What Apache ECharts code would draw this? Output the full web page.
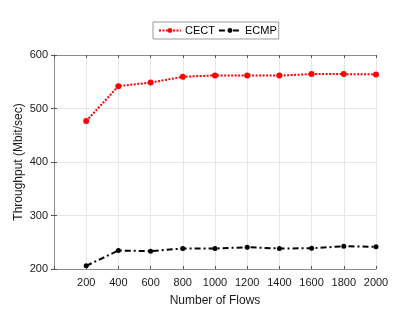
<!DOCTYPE html>
<html><head><meta charset="utf-8">
<script src="https://cdn.jsdelivr.net/npm/echarts@6/dist/echarts.min.js"></script>
<style>html,body{margin:0;padding:0;background:#fff}#c{width:415px;height:312px}</style>
</head><body><div id="c"></div>
<script>
var flows = [200, 400, 600, 800, 1000, 1200, 1400, 1600, 1800, 2000];
var cect = [476.5, 541.8, 548.4, 559.3, 561.9, 561.9, 561.5, 564.3, 564.3, 563.7];
var ecmp = [205.9, 234.6, 233.3, 238.3, 238.2, 240.7, 238.3, 238.8, 242.5, 241.4];
var xTicks = [0, 200, 400, 600, 800, 1000, 1200, 1400, 1600, 1800, 2000];
var yTicks = [200, 300, 400, 500, 600];

var font = 'Liberation Sans, Arial, sans-serif';
var chart = echarts.init(document.getElementById('c'), null, {renderer: 'canvas'});
function pairs(v){ return flows.map(function(f,i){ return [f, v[i]]; }); }
var axisLine = {show: true, lineStyle: {color: '#8c8c8c', width: 1}};
chart.setOption({
  animation: false,
  backgroundColor: '#fff',
  grid: {left: 54, right: 39, top: 55, bottom: 38},
  legend: {
    top: 22, left: 153, itemWidth: 22, itemHeight: 6, itemGap: 3,
    padding: [3, 2, 3, 5],
    borderColor: '#999', borderWidth: 1, borderRadius: 0,
    textStyle: {fontFamily: font, fontSize: 11, color: '#000', padding: [0, 0, 0, -1]},
    data: ['CECT', 'ECMP']
  },
  xAxis: [{
    type: 'value', min: 0, max: 2000, interval: 200,
    axisLine: axisLine,
    axisTick: {show: true, inside: true, length: 3, lineStyle: {color: '#555'}},
    axisLabel: {fontFamily: font, fontSize: 11, color: '#1a1a1a', margin: 8,
      formatter: function(v){ return v === 0 ? '' : String(v); }},
    splitLine: {show: true, lineStyle: {color: '#e6e6e6', width: 1}},
    name: 'Number of Flows', nameLocation: 'middle', nameGap: 26, nameMoveOverlap: false,
    nameTextStyle: {fontFamily: font, fontSize: 12, color: '#1a1a1a'}
  }, {
    type: 'value', position: 'top', min: 0, max: 2000, interval: 200,
    axisLine: axisLine,
    axisTick: {show: true, inside: true, length: 3, lineStyle: {color: '#555'}},
    axisLabel: {show: false}, splitLine: {show: false}
  }],
  yAxis: [{
    type: 'value', min: 200, max: 600, interval: 100,
    axisLine: axisLine,
    axisTick: {show: true, inside: true, length: 3, lineStyle: {color: '#555'}},
    axisLabel: {fontFamily: font, fontSize: 11, color: '#1a1a1a', margin: 6},
    splitLine: {show: true, lineStyle: {color: '#e6e6e6', width: 1}},
    name: 'Throughput (Mbit/sec)', nameLocation: 'middle', nameGap: 29, nameRotate: 90,
    nameMoveOverlap: false,
    nameTextStyle: {fontFamily: font, fontSize: 12, color: '#1a1a1a'}
  }, {
    type: 'value', position: 'right', min: 200, max: 600, interval: 100,
    axisLine: axisLine,
    axisTick: {show: true, inside: true, length: 3, lineStyle: {color: '#555'}},
    axisLabel: {show: false}, splitLine: {show: false}
  }],
  series: [{
    name: 'CECT', type: 'line', data: pairs(cect),
    symbol: 'circle', symbolSize: 6, showSymbol: true,
    itemStyle: {color: '#ff0000'},
    lineStyle: {color: '#ff0000', width: 2, type: [2, 1.5]}
  }, {
    name: 'ECMP', type: 'line', data: pairs(ecmp),
    symbol: 'circle', symbolSize: 5, showSymbol: true,
    itemStyle: {color: '#000'},
    lineStyle: {color: '#000', width: 2, type: [6, 3, 2, 3]}
  }]
});
</script></body></html>
